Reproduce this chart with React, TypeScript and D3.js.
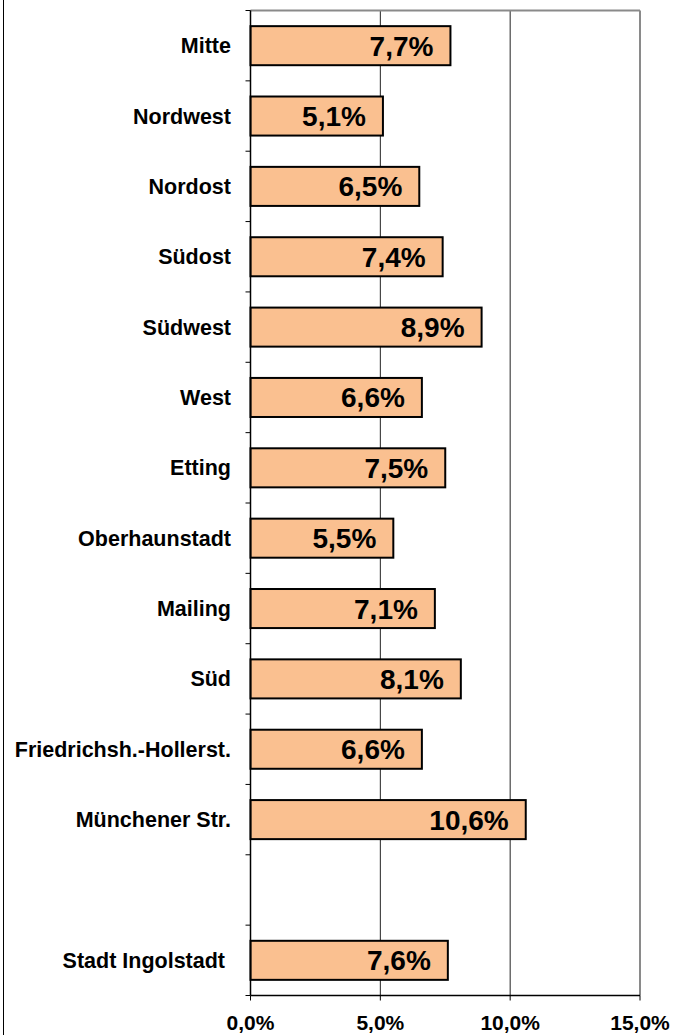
import React from "react";
import * as d3 from "d3";

const categories = [
  "Mitte",
  "Nordwest",
  "Nordost",
  "Südost",
  "Südwest",
  "West",
  "Etting",
  "Oberhaunstadt",
  "Mailing",
  "Süd",
  "Friedrichsh.-Hollerst.",
  "Münchener Str.",
  "",
  "Stadt Ingolstadt ",
];
const values: (number | null)[] = [7.7, 5.1, 6.5, 7.4, 8.9, 6.6, 7.5, 5.5, 7.1, 8.1, 6.6, 10.6, null, 7.6];
const xTicks = [0, 5, 10, 15];

const fmt = (v: number) => v.toFixed(1).replace(".", ",") + "%";

export default function App() {
  const W = 677;
  const H = 1035;
  const left = 250.5;
  const right = 640;
  const top = 10.5;
  const bottom = 995.5;
  const x = d3.scaleLinear().domain([0, 15]).range([left, right]);
  const y = d3
    .scaleBand<string>()
    .domain(categories.map((c, i) => String(i)))
    .range([top, bottom])
    .paddingInner(0.445)
    .paddingOuter(0.2225);
  const step = y.step();
  const bounds = d3.range(categories.length + 1).map((i) => top + i * step);
  const font = "Arial, 'Liberation Sans', sans-serif";

  return (
    <svg
      width={W}
      height={H}
      style={{ position: "absolute", left: 0, top: 0, background: "#fff" }}
    >
      <line x1={3.5} x2={3.5} y1={0} y2={H} stroke="#000" strokeWidth={1} />
      {xTicks.slice(1, 3).map((t) => (
        <line key={t} x1={x(t)} x2={x(t)} y1={top} y2={bottom} stroke="#222" strokeWidth={1} />
      ))}
      <line x1={left} x2={right} y1={top} y2={top} stroke="#8a8a8a" strokeWidth={2} />
      <line x1={right} x2={right} y1={top} y2={bottom} stroke="#8a8a8a" strokeWidth={2} />
      {categories.map((c, i) => {
        const v = values[i];
        if (v == null) return null;
        const by = y(String(i))!;
        const bh = y.bandwidth();
        return (
          <g key={i}>
            <rect
              x={x(0)}
              y={by}
              width={x(v) - x(0)}
              height={bh}
              fill="#FAC090"
              stroke="#000"
              strokeWidth={2}
            />
            <text
              x={x(v) - 17}
              y={by + bh / 2 + 10}
              textAnchor="end"
              fontFamily={font}
              fontWeight="bold"
              fontSize={28}
              fill="#000"
            >
              {fmt(v)}
            </text>
          </g>
        );
      })}
      <line x1={left} x2={left} y1={top} y2={bottom} stroke="#000" strokeWidth={1.5} />
      {bounds.map((b, i) => (
        <line key={i} x1={left - 5} x2={left} y1={b} y2={b} stroke="#000" strokeWidth={1} />
      ))}
      {categories.map((c, i) => (
        <text
          key={i}
          x={231}
          y={y(String(i))! + y.bandwidth() / 2 + 7.5}
          textAnchor="end"
          fontFamily={font}
          fontWeight="bold"
          fontSize={21.5}
          fill="#000"
          style={{ whiteSpace: "pre" }}
        >
          {c}
        </text>
      ))}
      <line x1={left} x2={right} y1={bottom} y2={bottom} stroke="#000" strokeWidth={1.5} />
      {xTicks.map((t) => (
        <g key={t}>
          <line x1={x(t)} x2={x(t)} y1={bottom} y2={bottom + 5} stroke="#000" strokeWidth={1} />
          <text
            x={x(t)}
            y={1030}
            textAnchor="middle"
            fontFamily={font}
            fontWeight="bold"
            fontSize={21}
            fill="#000"
          >
            {fmt(t)}
          </text>
        </g>
      ))}
    </svg>
  );
}
